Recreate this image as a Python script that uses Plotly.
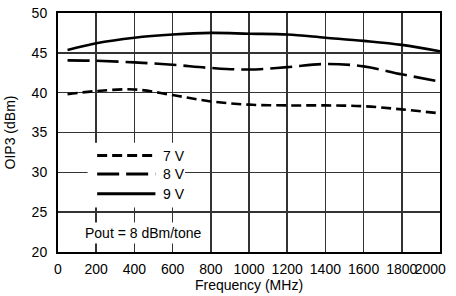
import plotly.graph_objects as go

freq = [50, 200, 400, 600, 800, 1000, 1200, 1400, 1600, 1800, 2000]
oip3_7v = [39.8, 40.2, 40.4, 39.7, 38.9, 38.5, 38.4, 38.4, 38.3, 37.9, 37.4]
oip3_8v = [44.05, 44.0, 43.8, 43.5, 43.1, 42.9, 43.2, 43.6, 43.3, 42.3, 41.4]
oip3_9v = [45.35, 46.2, 46.9, 47.3, 47.5, 47.4, 47.3, 46.9, 46.5, 46.0, 45.2]
x_ticks = list(range(0, 2001, 200))
x_ticktext = [str(v) for v in x_ticks[:-1]] + ["2000\u00a0\u00a0\u00a0\u00a0\u00a0"]
y_ticks = [20, 25, 30, 35, 40, 45, 50]
labels = ["7 V", "8 V", "9 V"]
dashes = ["10px,5px", "22px,7px", "solid"]

FONT = "Liberation Sans, Arial, sans-serif"

fig = go.Figure()
for name, ys, d in zip(labels, [oip3_7v, oip3_8v, oip3_9v], dashes):
    fig.add_trace(go.Scatter(x=freq, y=ys, mode="lines", name=name,
                             line=dict(color="black", width=2.6, dash=d, shape="spline", smoothing=1.0),
                             showlegend=False, hoverinfo="skip"))

# legend box (white background covering gridlines)
fig.add_shape(type="rect", xref="x", yref="y", x0=155, x1=665, y0=25.6, y1=33.7,
              fillcolor="white", line=dict(width=0), layer="above")
leg_y = [32.1, 29.8, 27.3]
for lab, d, yy in zip(labels, dashes, leg_y):
    fig.add_shape(type="line", xref="x", yref="y", x0=205, x1=510, y0=yy, y1=yy,
                  line=dict(color="black", width=3, dash=d), layer="above")
    fig.add_annotation(x=540, y=yy, xref="x", yref="y", text=lab, showarrow=False,
                       xanchor="left", yanchor="middle",
                       font=dict(family=FONT, size=14, color="black"))

fig.add_annotation(x=450, y=22.4, xref="x", yref="y", text="Pout = 8 dBm/tone",
                   showarrow=False, bgcolor="white", borderpad=2,
                   font=dict(family=FONT, size=14, color="black"))

fig.update_layout(
    width=456, height=296,
    margin=dict(l=58, r=16, t=13, b=44, autoexpand=False),
    paper_bgcolor="white", plot_bgcolor="white",
    font=dict(family=FONT, size=14, color="black"),
)
fig.update_xaxes(range=[0, 2000], tickvals=x_ticks, ticktext=x_ticktext, tickangle=0,
                 showgrid=True, gridcolor="#333333", gridwidth=1.5,
                 layer="above traces", ticklabeloverflow="allow",
                 showline=True, linecolor="black", linewidth=2, mirror=True, ticks="",
                 ticklabelstandoff=3, zeroline=False, automargin=False,
                 title=dict(text="Frequency (MHz)", standoff=0, font=dict(size=14)))
fig.update_yaxes(range=[20, 50], tickvals=y_ticks, showgrid=True, gridcolor="#333333", gridwidth=1.5,
                 layer="above traces", ticklabeloverflow="allow",
                 showline=True, linecolor="black", linewidth=2, mirror=True, ticks="",
                 ticklabelstandoff=6, zeroline=False, automargin=False,
                 title=dict(text="\u00a0\u00a0\u00a0\u00a0\u00a0OIP3 (dBm)", standoff=13, font=dict(size=14)))

# remove the default 8px page margin so the figure fills the window exactly
fig.write_html("out.html", config={"displayModeBar": False, "staticPlot": True},
               post_script="document.body.style.margin='0';document.body.style.overflow='hidden';")
